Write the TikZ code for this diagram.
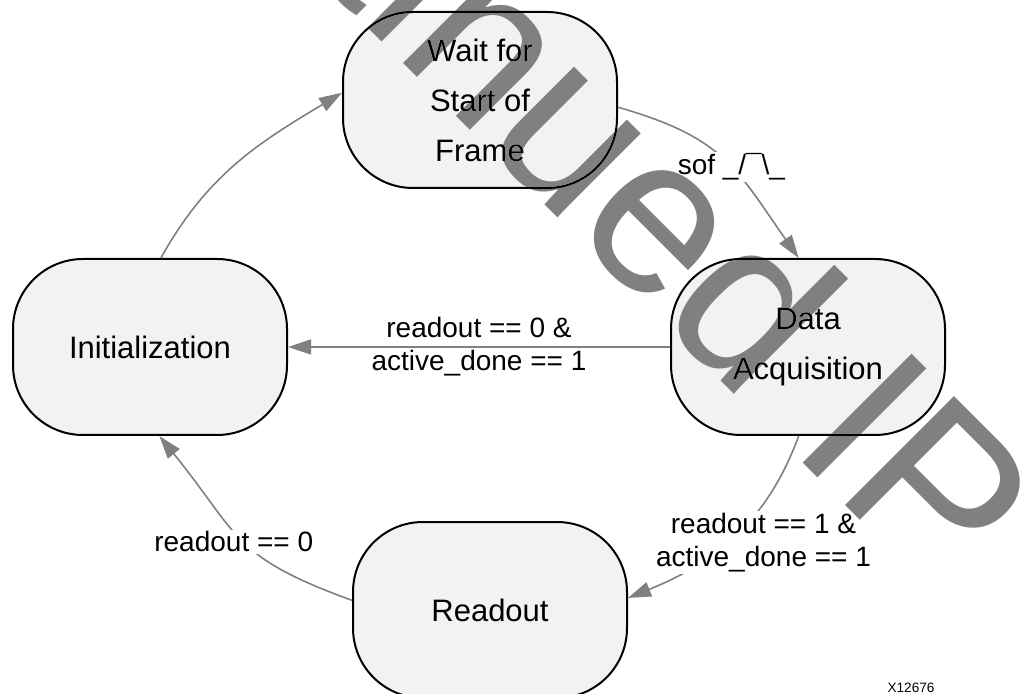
\documentclass[tikz,border=0pt]{standalone}
\usepackage{fontspec}
\setmainfont{Liberation Sans}
\usetikzlibrary{arrows.meta}
\definecolor{statefill}{HTML}{F2F2F2}
\definecolor{edgegray}{HTML}{808080}
\definecolor{markgray}{HTML}{808080}

\begin{document}
\begin{tikzpicture}[
  x=0.5pt, y=-0.5pt,
  state/.style={draw=black, line width=1pt, fill=statefill, rounded corners=35pt,
    minimum width=137pt, minimum height=88pt, align=center,
    font=\fontsize{15.5}{25}\selectfont},
  trans/.style={draw=edgegray, line width=0.8pt, -{Triangle[length=11.5pt,width=7.5pt]}},
  cond/.style={fill=white, inner sep=1pt, align=center, font=\fontsize{14}{16.5}\selectfont}
]
\useasboundingbox (0,0) rectangle (1021,694);

% The four states
\node[state] (wait) at (480,100) {Wait for\\Start of\\Frame};
\node[state] (data) at (808,347) {Data\\Acquisition};
\node[state] (init) at (150,347) {Initialization};
\node[state] (read) at (490,610) {Readout};

% Transitions
\draw[trans] (init.83) to[out=61, in=211] (wait.177);
\draw[trans] (wait.357) to[out=-16, in=125, looseness=1.2]
  node[cond, pos=0.55] {sof \_/\char"00AF\textbackslash\_} (data.96);
\draw[trans] (data.west) --
  node[cond, fill=none] {readout == 0 \&\\active\_done == 1} (init.east);
\draw[trans] (data.264) to[out=250, in=22]
  node[cond, pos=0.5, xshift=15pt, yshift=-3pt] {readout == 1 \&\\active\_done == 1} (read.5);
\draw[trans] (read.176) to[out=160, in=-51, looseness=1.3]
  node[cond, pos=0.45, xshift=-7pt, yshift=2pt] {readout == 0} (init.276);

% Figure number
\node[font=\fontsize{6.8}{8}\selectfont] (fignum) at (911,688) {X12676};

% Watermark across the page
\begin{scope}[blend mode=darken]
\node[font=\fontsize{112}{112}\selectfont, text=markgray, rotate=-45,
  inner sep=0pt, anchor=base east] (mark) at (939,599) {Discontinued IP};
\end{scope}

\end{tikzpicture}
\end{document}
